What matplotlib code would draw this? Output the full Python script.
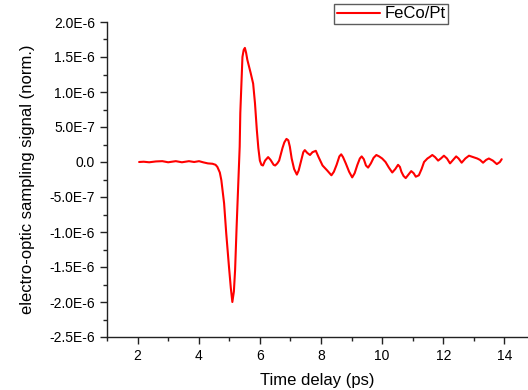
import matplotlib
matplotlib.use("Agg")
import matplotlib.pyplot as plt
from matplotlib.ticker import MultipleLocator, FuncFormatter

plt.rcParams['font.family'] = ['Liberation Sans', 'DejaVu Sans']

time_ps = [2.05, 2.2, 2.38, 2.6, 2.81, 3.0, 3.25, 3.45, 3.68, 3.85, 4.01, 4.15, 4.3, 4.45, 4.55,
           4.61, 4.69, 4.74, 4.83, 4.90, 4.99, 5.05, 5.10, 5.15, 5.19, 5.24, 5.30, 5.34, 5.36,
           5.40, 5.43, 5.47, 5.51, 5.55, 5.59, 5.70, 5.78, 5.84, 5.90, 5.95, 6.00, 6.05, 6.10,
           6.17, 6.27, 6.35, 6.45, 6.50, 6.57, 6.63, 6.74, 6.80, 6.87, 6.93, 6.98, 7.04, 7.12,
           7.21, 7.27, 7.34, 7.42, 7.47, 7.55, 7.64, 7.72, 7.83, 7.92, 8.05, 8.20, 8.34, 8.42,
           8.51, 8.60, 8.66, 8.72, 8.81, 8.92, 9.02, 9.10, 9.19, 9.27, 9.33, 9.40, 9.47, 9.54,
           9.63, 9.72, 9.81, 9.90, 10.00, 10.11, 10.22, 10.33, 10.43, 10.52, 10.58, 10.63, 10.70,
           10.77, 10.86, 10.95, 11.03, 11.10, 11.20, 11.29, 11.37, 11.48, 11.55, 11.64, 11.73,
           11.83, 11.92, 12.02, 12.12, 12.22, 12.32, 12.42, 12.50, 12.60, 12.72, 12.84, 12.97,
           13.11, 13.20, 13.30, 13.40, 13.49, 13.62, 13.75, 13.85, 13.91]
signal_e6 = [0.0, 0.004, -0.004, 0.008, 0.012, -0.004, 0.012, -0.004, 0.012, 0.0, 0.012, -0.005, -0.02, -0.025, -0.04,
             -0.07, -0.15, -0.26, -0.59, -1.02, -1.50, -1.80, -2.0, -1.85, -1.54, -0.92, -0.26, 0.22, 0.70,
             1.17, 1.50, 1.60, 1.63, 1.56, 1.46, 1.27, 1.12, 0.84, 0.46, 0.20, 0.02, -0.04, -0.05,
             0.02, 0.07, 0.03, -0.04, -0.05, -0.02, 0.02, 0.20, 0.28, 0.33, 0.31, 0.22, 0.05, -0.10,
             -0.18, -0.12, 0.0, 0.14, 0.17, 0.13, 0.10, 0.14, 0.16, 0.07, -0.05, -0.12, -0.19, -0.14,
             -0.04, 0.08, 0.11, 0.07, -0.02, -0.14, -0.22, -0.16, -0.04, 0.05, 0.08, 0.04, -0.05, -0.08,
             -0.02, 0.06, 0.10, 0.08, 0.05, 0.0, -0.08, -0.15, -0.10, -0.04, -0.07, -0.14, -0.20,
             -0.23, -0.18, -0.13, -0.16, -0.21, -0.19, -0.10, 0.0, 0.05, 0.07, 0.10, 0.07,
             0.02, 0.05, 0.09, 0.05, -0.02, 0.03, 0.08, 0.05, -0.01, 0.05, 0.09, 0.07,
             0.05, 0.03, -0.01, 0.03, 0.05, 0.02, -0.03, 0.0, 0.04]
signal = [v * 1e-6 for v in signal_e6]

fig = plt.figure(figsize=(5.28, 3.9), dpi=100)
ax = fig.add_axes([107/528, 53/390, 421/528, 315/390])
ax.plot(time_ps, signal, color='#ff0000', lw=1.5, label='FeCo/Pt',
        solid_joinstyle='round', solid_capstyle='round')

ax.set_xlim(1, 14.77)
ax.set_ylim(-2.5e-6, 2.0e-6)
ax.xaxis.set_major_locator(MultipleLocator(2))
ax.xaxis.set_minor_locator(MultipleLocator(1))
ax.yaxis.set_major_locator(MultipleLocator(0.5e-6))
ax.yaxis.set_minor_locator(MultipleLocator(0.25e-6))

def yfmt(v, pos):
    if abs(v) < 1e-12:
        return '0.0'
    s = '%.1E' % v
    mant, exp = s.split('E')
    return '%sE%d' % (mant, int(exp))
ax.yaxis.set_major_formatter(FuncFormatter(yfmt))

for s in ['top', 'right']:
    ax.spines[s].set_visible(False)
for s in ['left', 'bottom']:
    ax.spines[s].set_color('#222222')
    ax.spines[s].set_linewidth(1.0)
ax.tick_params(which='major', direction='out', length=5, width=1, labelsize=10, colors='#222222', labelcolor='black')
ax.tick_params(which='minor', direction='out', length=3, width=1, colors='#222222')

ax.set_xlabel('Time delay (ps)', fontsize=12, labelpad=7)
ax.set_ylabel('electro-optic sampling signal (norm.)', fontsize=12, labelpad=10.5)

leg = ax.legend(loc='upper left', bbox_to_anchor=(334/528, 1 - 4/390), bbox_transform=fig.transFigure,
                fontsize=12, frameon=True, fancybox=False, borderpad=0.15, handlelength=2.6,
                handletextpad=0.3, borderaxespad=0)
leg.get_frame().set_edgecolor('#333333')
leg.get_frame().set_linewidth(1.0)

fig.savefig('out.png', dpi=100)
